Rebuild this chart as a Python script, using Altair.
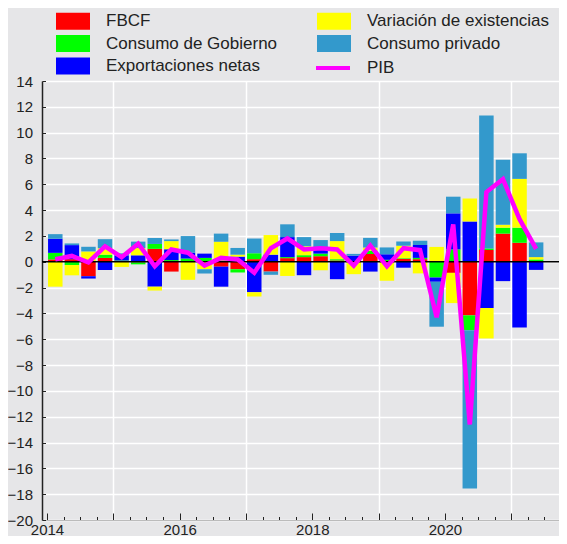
import altair as alt
import pandas as pd

# ---------------- data ----------------
trimestres = ["2014T1", "2014T2", "2014T3", "2014T4",
              "2015T1", "2015T2", "2015T3", "2015T4",
              "2016T1", "2016T2", "2016T3", "2016T4",
              "2017T1", "2017T2", "2017T3", "2017T4",
              "2018T1", "2018T2", "2018T3", "2018T4",
              "2019T1", "2019T2", "2019T3", "2019T4",
              "2020T1", "2020T2", "2020T3", "2020T4",
              "2021T1", "2021T2"]

fbcf = [0.18, 0.2, -1.12, 0.3, 0.0, -0.05, 1.0, -0.76,
        0.05, 0.0, -0.38, -0.58, 0.2, -0.76, 0.28, 0.36,
        0.43, 0.1, 0.0, 0.6, 0.05, 0.23, 0.2, 0.05,
        -0.86, -4.15, 0.91, 2.18, 1.47, 0.05]
gobierno = [0.51, -0.25, 0.05, 0.25, 0.1, -0.15, 0.38, 0.13,
            0.2, 0.3, 0.1, -0.25, 0.46, 0.05, 0.08, 0.15,
            0.2, 0.1, 0.05, 0.25, 0.1, 0.05, 0.1, -1.22,
            0.96, -1.15, 0.12, 0.46, 1.17, 0.13]
exportaciones = [1.09, 1.09, -0.18, -0.64, 0.4, 0.5, -1.93, 0.84,
                 0.46, 0.33, -1.55, 0.4, -2.36, 0.5, 1.55, -1.04,
                 0.45, -1.35, 0.43, -0.76, 0.43, -0.46, 1.0, -0.33,
                 2.79, 3.12, -3.58, -1.5, -5.1, -0.63]
existencias = [-1.93, -0.8, 0.75, 0.5, -0.4, 0.56, -0.3, 0.63,
               -1.4, -0.58, 1.45, 0.15, -0.33, 1.52, -1.1, 0.69,
               -0.66, 1.4, -0.96, 0.25, -1.47, 0.96, -0.9, 1.1,
               -2.34, 1.78, -2.36, 0.23, 3.78, 0.18]
privado = [0.36, 0.13, 0.36, 0.7, 0.15, 0.5, 0.46, 0.13,
           1.28, -0.33, 0.63, 0.52, 1.14, -0.25, 0.99, 0.71,
           0.6, 0.63, 0.13, 0.75, 0.53, 0.33, 0.33, -3.48,
           1.29, -12.27, 10.3, 5.03, 1.98, 1.14]
pib = [0.2, 0.45, -0.05, 1.2, 0.35, 1.4, -0.35, 0.95,
       0.7, -0.3, 0.3, 0.18, -0.85, 1.05, 1.8, 0.95,
       1.05, 0.95, -0.3, 1.25, -0.35, 1.05, 0.9, -4.3,
       2.9, -12.6, 5.4, 6.4, 3.3, 1.0]

componentes = ["FBCF", "Consumo de Gobierno", "Exportaciones netas",
               "Variación de existencias", "Consumo privado"]
series = [fbcf, gobierno, exportaciones, existencias, privado]
colores = ["#ff0000", "#00ff00", "#0000ff", "#ffff00", "#3399cc"]

y_ticks = list(range(-20, 15, 2))
x_ticks = [2014 + i / 4 for i in range(32)]


def centro(trim):
    return int(trim[:4]) + (int(trim[-1]) - 0.5) / 4


rows = []
for k, (nombre, serie) in enumerate(zip(componentes, series)):
    for trim, v in zip(trimestres, serie):
        rows.append({"trimestre": trim, "t": centro(trim), "componente": nombre,
                     "orden": k, "valor": v})
bars_df = pd.DataFrame(rows)
line_df = pd.DataFrame({"trimestre": trimestres,
                        "t": [centro(s) for s in trimestres],
                        "pib": pib, "serie": ["PIB"] * len(trimestres)})
zero_df = pd.DataFrame({"y": [0]})

# ---------------- style ----------------
BG = "#e6e6e8"
FONT = "Liberation Sans"
TXT = "#222222"
PLOT_W, PLOT_H = 517, 439

x_scale = alt.Scale(domain=[2014, 2021.75], range=[0, 524], nice=False, zero=False)
y_scale = alt.Scale(domain=[-20, 14], nice=False)

x_axis = alt.Axis(
    values=x_ticks, title=None,
    labelExpr="datum.value % 2 == 0 ? format(datum.value, 'd') : ''",
    labelFlush=False, labelOverlap=False, labelBound=False,
    labelFont=FONT, labelFontSize=15, labelColor=TXT, labelPadding=9,
    tickColor=TXT, tickWidth=1,
    tickSize={"condition": {"test": "datum.value % 1 == 0", "value": -7}, "value": -3.5},
    domainColor="#bbbbbb", domainWidth=1,
    grid=True, gridColor="white", gridWidth=1.5,
    gridOpacity={"condition": {"test": "datum.value % 2 == 1", "value": 1}, "value": 0},
)
y_axis = alt.Axis(
    values=y_ticks, title=None, labelOverlap=False,
    labelFont=FONT, labelFontSize=15, labelColor=TXT, labelPadding=13,
    tickColor=TXT, tickWidth=1, tickSize={"expr": "-3.5"},
    domainColor=TXT, domainWidth=1.5,
    grid=True, gridColor="white", gridWidth=1.5,
)

color_legend = alt.Legend(
    title=None, orient="none", legendX=21, legendY=-70, columns=2,
    direction="vertical", columnPadding=39, rowPadding=3.5, padding=0,
    symbolType="M-1.7,-0.85L1.7,-0.85L1.7,0.85L-1.7,0.85Z", symbolSize=400,
    symbolStrokeWidth=0, symbolOpacity=1,
    labelFont=FONT, labelFontSize=17, labelColor=TXT, labelOffset=23,
    labelLimit=400,
)
pib_legend = alt.Legend(
    title=None, orient="none", legendX=279, legendY=-25, padding=0,
    symbolType="M-1.7,0L1.7,0", symbolSize=400, symbolStrokeWidth=4,
    labelFont=FONT, labelFontSize=17, labelColor=TXT, labelOffset=22,
    labelLimit=400,
)

bars = alt.Chart(bars_df).mark_bar(width=14.5).encode(
    x=alt.X("t:Q", scale=x_scale, axis=x_axis),
    y=alt.Y("valor:Q", stack="zero", scale=y_scale, axis=y_axis),
    color=alt.Color("componente:N",
                    scale=alt.Scale(domain=componentes, range=colores),
                    legend=color_legend),
    order=alt.Order("orden:Q"),
)

zero = alt.Chart(zero_df).mark_rule(color="black", strokeWidth=1.5).encode(
    y=alt.Y("y:Q", scale=y_scale, axis=y_axis)
)

line = alt.Chart(line_df).mark_line(strokeWidth=4.5, strokeJoin="miter").encode(
    x=alt.X("t:Q", scale=x_scale, axis=x_axis),
    y=alt.Y("pib:Q", scale=y_scale, axis=y_axis),
    stroke=alt.Stroke("serie:N",
                      scale=alt.Scale(domain=["PIB"], range=["#ff00ff"]),
                      legend=pib_legend),
)

chart = alt.layer(bars, zero, line).properties(
    width=PLOT_W, height=PLOT_H, background=BG,
    autosize=alt.AutoSizeParams(type="none"),
    padding={"left": 34, "top": 73, "right": 0, "bottom": 16},
).configure_view(fill=BG, strokeWidth=0)

chart.save("out.html", embed_options={"renderer": "svg", "actions": False})
